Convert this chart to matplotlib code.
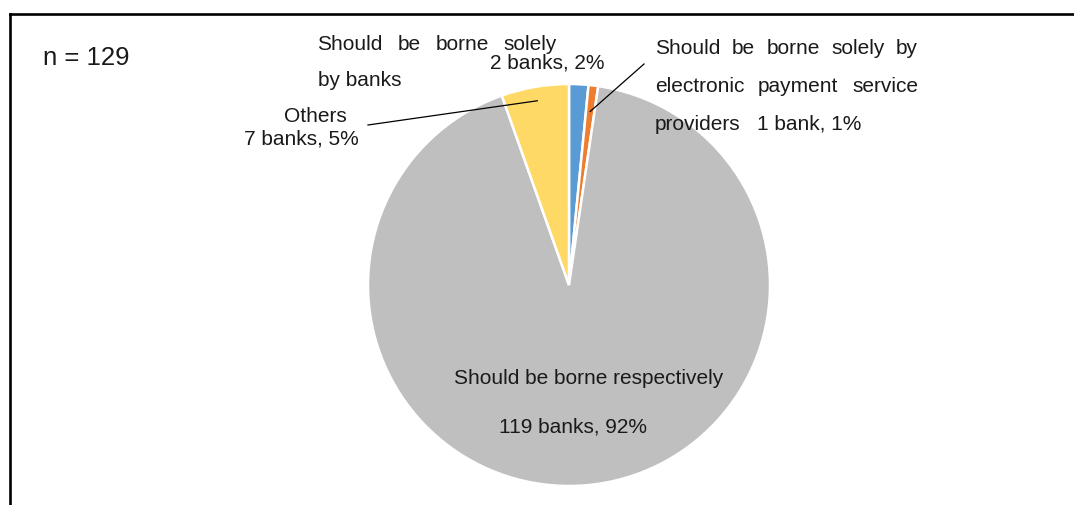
import numpy as np
import matplotlib
matplotlib.use("Agg")
import matplotlib.pyplot as plt
from matplotlib.lines import Line2D

plt.rcParams['font.family'] = ['Liberation Sans', 'DejaVu Sans']

categories = ["Should be borne solely by banks",
              "Should be borne solely by electronic payment service providers",
              "Should be borne respectively",
              "Others"]
counts = [2, 1, 119, 7]
percents = [2, 1, 92, 5]
units = ["banks", "bank", "banks", "banks"]
colors = ["#5B9BD5", "#ED7D31", "#BFBFBF", "#FFD966"]
n_total = 129

W, H = 1074, 505
fig = plt.figure(figsize=(W / 100, H / 100), dpi=100)
fs = 15


def fx(x):
    return x / W


def fy(y):
    return 1 - y / H


# Pie axes (pixel box)
cx, cy, R = 569, 285, 201
ax = fig.add_axes([fx(cx - R), fy(cy + R), 2 * R / W, 2 * R / H])
wedges, _ = ax.pie(counts, colors=colors, startangle=90, counterclock=False,
                   radius=1.0, wedgeprops=dict(edgecolor="white", linewidth=1.8))
ax.set_xlim(-1, 1)
ax.set_ylim(-1, 1)
ax.set_aspect("equal")
ax.axis("off")

# frame lines
fig.add_artist(Line2D([fx(9.5), fx(1080), ], [fy(13.5), fy(13.5)], color="black", lw=1.9,
                      solid_capstyle="projecting", transform=fig.transFigure))
fig.add_artist(Line2D([fx(9.5), fx(9.5)], [fy(13.5), fy(510)], color="black", lw=1.9,
                      solid_capstyle="projecting", transform=fig.transFigure))

renderer = fig.canvas.get_renderer()
tcol = "#1a1a1a"


def justified(words, x0, x1, y):
    texts = [fig.text(0, fy(y), w, fontsize=fs, ha="left", va="center", color=tcol)
             for w in words]
    widths = [t.get_window_extent(renderer).width for t in texts]
    gap = (x1 - x0 - sum(widths)) / max(len(words) - 1, 1)
    x = x0
    for t, w in zip(texts, widths):
        t.set_x(fx(x))
        x += w + gap


def txt(x, y, s, ha="center", size=fs):
    fig.text(fx(x), fy(y), s, fontsize=size, ha=ha, va="center", color=tcol)


def lab(i):
    return f"{counts[i]} {units[i]}, {percents[i]}%"


txt(43, 58, f"n = {n_total}", ha="left", size=18.5)

# label 0 (banks)
justified(["Should", "be", "borne", "solely"], 317, 557, 44)
txt(318, 80, "by banks", ha="left")
txt(605, 63, lab(0), ha="right")

# label 1 (EPSP)
justified(["Should", "be", "borne", "solely", "by"], 655, 918, 49)
justified(["electronic", "payment", "service"], 655, 918, 87)
txt(655, 124, "providers", ha="left")
txt(757, 124, lab(1), ha="left")

# label 2 (respectively)
txt(589, 379, categories[2])
txt(573, 427, lab(2))

# label 3 (others)
txt(315, 117, categories[3])
txt(301, 139, lab(3))


# leader lines to wedge interiors
def wedge_point(w, r):
    ang = np.deg2rad((w.theta1 + w.theta2) / 2)
    return r * np.cos(ang), r * np.sin(ang)


def to_fig(pt):
    disp = ax.transData.transform(pt)
    return fig.transFigure.inverted().transform(disp)


p3 = to_fig(wedge_point(wedges[3], 0.93))
fig.add_artist(Line2D([fx(368), p3[0]], [fy(125), p3[1]], color="black", lw=0.9,
                      transform=fig.transFigure))
p1 = to_fig(wedge_point(wedges[1], 0.87))
fig.add_artist(Line2D([fx(644), p1[0]], [fy(64), p1[1]], color="black", lw=0.9,
                      transform=fig.transFigure))

fig.savefig("out.png", dpi=100, facecolor="white")
